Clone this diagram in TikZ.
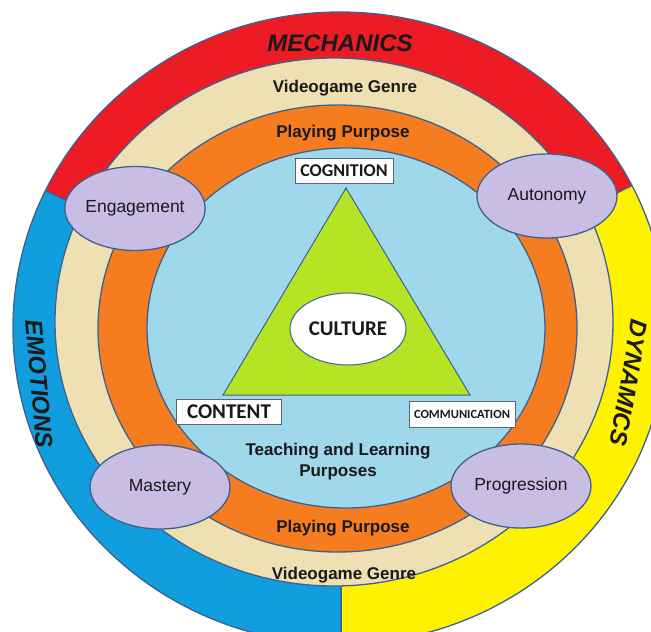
\documentclass[tikz,border=0pt]{standalone}
\usepackage{fontspec}
\setmainfont{Liberation Sans}
\newfontfamily\calfont{Carlito}
\usetikzlibrary{calc,shapes.geometric}
\definecolor{mechred}{RGB}{237,28,36}
\definecolor{emoblue}{RGB}{16,158,222}
\definecolor{dynyellow}{RGB}{255,242,0}
\definecolor{beige}{RGB}{238,224,178}
\definecolor{ringorange}{RGB}{245,125,32}
\definecolor{innerblue}{RGB}{158,216,234}
\definecolor{trigreen}{RGB}{180,228,36}
\definecolor{lav}{RGB}{200,190,228}
\definecolor{outl}{RGB}{62,96,146}
\definecolor{boxc}{RGB}{90,100,120}
\definecolor{textc}{RGB}{25,25,25}
\newcommand\bandfont{\fontsize{24}{28}\selectfont\bfseries\itshape}
\begin{document}
\begin{tikzpicture}[x=1pt,y=1pt,
  ring/.style={draw=outl, line width=1.3pt},
  pill/.style={ellipse, draw=outl, line width=1.3pt, fill=lav, minimum width=140pt, minimum height=84pt, inner sep=0pt, font=\fontsize{17.5}{20}\selectfont, text=textc},
  lbl/.style={font=\fontsize{17}{21}\selectfont\bfseries, text=textc, align=center},
  boxlbl/.style={draw=boxc, fill=white, line width=0.8pt, inner sep=0pt, text=textc}]
\clip (0,0) rectangle (651,-632);
\coordinate (O) at (340,-328);
% outer band
\fill[emoblue] (O) ellipse[x radius=327, y radius=316];
\begin{scope}
  \clip (O) -- ($(O)+(26:700)$) -- ($(O)+(90:700)$) -- ($(O)+(155:700)$) -- cycle;
  \fill[mechred] (O) ellipse[x radius=327, y radius=316];
\end{scope}
\begin{scope}
  \clip (O) -- ($(O)+(26:700)$) -- (1200,-1200) -- (341,-1200) -- (341,-328) -- cycle;
  \fill[dynyellow] (O) ellipse[x radius=327, y radius=316];
\end{scope}
\begin{scope}
  \clip (O) ellipse[x radius=327, y radius=316];
  \draw[ring] (O) -- ($(O)+(26:400)$);
  \draw[ring] (O) -- ($(O)+(155:400)$);
  \draw[ring] (341,-328) -- (341,-700);
\end{scope}
\draw[ring] (O) ellipse[x radius=327, y radius=316];
% inner rings
\filldraw[ring, fill=beige] (334,-322) ellipse[x radius=279, y radius=264];
\filldraw[ring, fill=ringorange] (337.5,-328.5) ellipse[x radius=239.5, y radius=223.5];
\filldraw[ring, fill=innerblue] (346,-328) ellipse[x radius=199, y radius=180];
% triangle
\filldraw[draw=outl, line width=1pt, fill=trigreen] (346,-188) -- (223,-395) -- (470,-395) -- cycle;
\node[ellipse, draw=outl, line width=1pt, fill=white, minimum width=116pt, minimum height=72pt, inner sep=0pt, text=textc, font=\calfont\bfseries\fontsize{21}{24}\selectfont] (culture) at (348,-329) {CULTURE};
% boxes
\node[boxlbl, minimum width=98pt, minimum height=25pt, font=\calfont\bfseries\fontsize{18}{20}\selectfont] (cog) at (344,-171) {COGNITION};
\node[boxlbl, minimum width=105pt, minimum height=25pt, font=\calfont\bfseries\fontsize{21}{23}\selectfont] (content) at (229,-412) {CONTENT};
\node[boxlbl, minimum width=106pt, minimum height=26pt, font=\calfont\bfseries\fontsize{12.5}{14}\selectfont] (comm) at (462,-414) {COMMUNICATION};
% band labels
\node[lbl, font=\bandfont] (mech) at (340,-43) {MECHANICS};
\node[lbl] (vg1) at (345,-88) {Videogame Genre};
\node[lbl] (pp1) at (343,-133) {Playing Purpose};
\node[lbl] (tl) at (338,-462) {Teaching and Learning\\Purposes};
\node[lbl] (pp2) at (343,-528) {Playing Purpose};
\node[lbl] (vg2) at (344,-575) {Videogame Genre};
\node[lbl, font=\bandfont, rotate=-85] (emo) at (39,-384) {EMOTIONS};
\node[lbl, font=\bandfont, rotate=-100] (dyn) at (629,-383) {DYNAMICS};
% purple ellipses
\node[pill] (eng) at (135,-208.5) {Engagement};
\node[pill] (aut) at (547,-196) {Autonomy};
\node[pill] (mas) at (160,-487) {Mastery};
\node[pill] (pro) at (521,-486) {Progression};
\end{tikzpicture}
\end{document}
